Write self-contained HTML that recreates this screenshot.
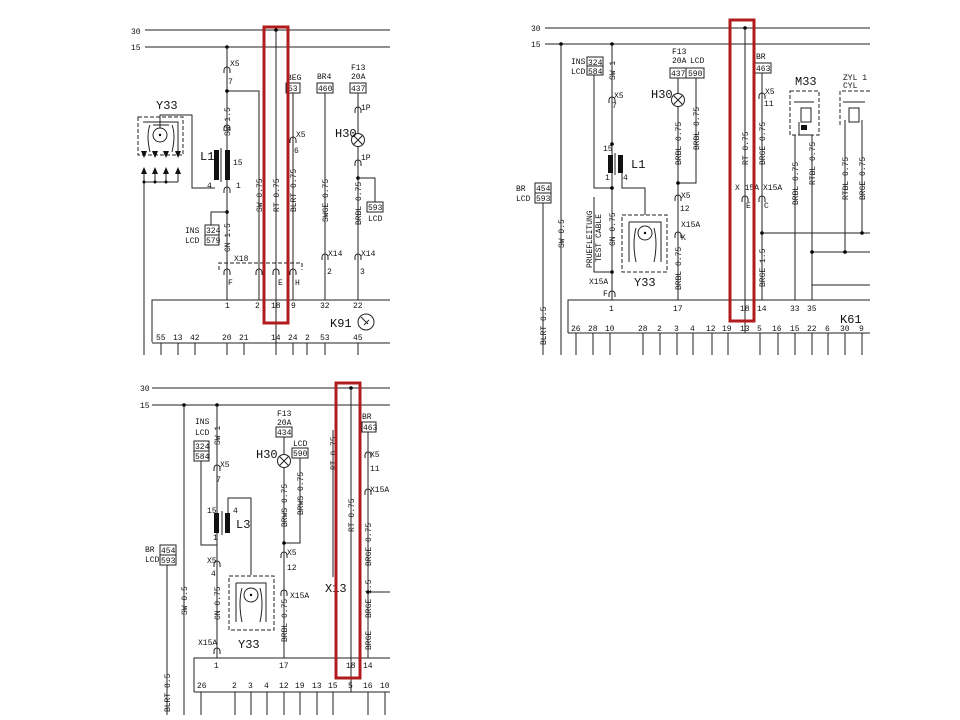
<!DOCTYPE html>
<html><head><meta charset="utf-8"><style>
html,body{margin:0;padding:0;background:#fff;width:960px;height:720px;overflow:hidden}
svg text{font-family:"Liberation Mono",monospace;fill:#111}
.s{font-size:8px}.m{font-size:12px}
.w{stroke:#222;stroke-width:1;fill:none}
.b{stroke:#222;stroke-width:1;fill:#fff}
.d{stroke:#222;stroke-width:1;fill:none;stroke-dasharray:4 2}
.r{stroke:#b01c1c;stroke-width:3;fill:none}
</style></head><body>
<svg width="960" height="720" viewBox="0 0 960 720" xmlns="http://www.w3.org/2000/svg">
<defs>
<path id="c" d="M-3,3 v-3 a3,3 0 0 1 6,0 v3" fill="none" stroke="#222"/>
</defs>

<!-- ============ PANEL 1 ============ -->
<text x="131" y="34" class="s">30</text><line x1="145" y1="30" x2="390" y2="30" class="w"/>
<text x="131" y="50" class="s">15</text><line x1="145" y1="47" x2="390" y2="47" class="w"/>
<circle cx="276" cy="30" r="1.8"/><line x1="276" y1="30" x2="276" y2="355" class="w"/>
<circle cx="227" cy="47" r="1.8"/>
<path class="w" d="M227,47V300 M227,91H259V300"/>
<circle cx="227" cy="91" r="1.8"/>
<use href="#c" x="227" y="70"/><text x="230" y="66" class="s">X5</text><text x="228" y="84" class="s">7</text>
<text transform="translate(230,136) rotate(-90)" class="s">SW 1.5</text>
<use href="#c" x="227" y="128"/><use href="#c" x="227" y="190"/>
<rect x="214" y="150" width="5" height="30" fill="#111"/><rect x="225" y="150" width="5" height="30" fill="#111"/>
<line x1="221" y1="148" x2="221" y2="182" class="w"/>
<text x="200" y="160" class="m">L1</text><text x="233" y="165" class="s">15</text><text x="207" y="188" class="s">4</text><text x="236" y="188" class="s">1</text>
<circle cx="227" cy="212" r="1.8"/><path class="w" d="M227,212H211V225"/>
<rect x="205" y="225" width="14" height="10" class="b"/><text x="206" y="233" class="s">324</text>
<rect x="205" y="235" width="14" height="10" class="b"/><text x="206" y="243" class="s">579</text>
<text x="185" y="233" class="s">INS</text><text x="185" y="243" class="s">LCD</text>
<text transform="translate(230,252) rotate(-90)" class="s">GN 1.5</text>
<path class="d" d="M219,270V263H302V270"/><text x="234" y="261" class="s">X18</text>
<use href="#c" x="227" y="272"/><use href="#c" x="259" y="272"/><use href="#c" x="276" y="272"/><use href="#c" x="293" y="272"/>
<text x="228" y="285" class="s">F</text><text x="278" y="285" class="s">E</text><text x="295" y="285" class="s">H</text>
<text transform="translate(262,212) rotate(-90)" class="s">SW 0.75</text>
<text transform="translate(279,212) rotate(-90)" class="s">RT 0.75</text>
<text x="287" y="80" class="s">BEG</text><rect x="286" y="83" width="14" height="10" class="b"/><text x="288" y="91" class="s">53</text>
<line x1="293" y1="93" x2="293" y2="300" class="w"/><use href="#c" x="293" y="140"/><text x="296" y="137" class="s">X5</text><text x="294" y="153" class="s">6</text>
<text transform="translate(296,212) rotate(-90)" class="s">BLRT 0.75</text>
<text x="317" y="79" class="s">BR4</text><rect x="317" y="83" width="16" height="10" class="b"/><text x="318" y="91" class="s">460</text>
<line x1="325" y1="93" x2="325" y2="300" class="w"/><text transform="translate(328,222) rotate(-90)" class="s">SWGE 0.75</text>
<use href="#c" x="325" y="257"/><text x="328" y="256" class="s">X14</text><text x="327" y="274" class="s">2</text>
<text x="351" y="70" class="s">F13</text><text x="351" y="79" class="s">20A</text><rect x="350" y="83" width="16" height="10" class="b"/><text x="351" y="91" class="s">437</text>
<line x1="358" y1="93" x2="358" y2="300" class="w"/>
<use href="#c" x="358" y="110"/><text x="361" y="110" class="s">1P</text>
<circle cx="358" cy="140" r="6.5" class="b"/><path class="w" d="M353.5,135.5l9,9M362.5,135.5l-9,9"/>
<text x="335" y="137" class="m">H30</text>
<use href="#c" x="358" y="163"/><text x="361" y="160" class="s">1P</text>
<circle cx="358" cy="178" r="1.8"/><path class="w" d="M358,178H375V202"/>
<rect x="367" y="202" width="16" height="10" class="b"/><text x="368" y="210" class="s">593</text><text x="368" y="221" class="s">LCD</text>
<text transform="translate(361,225) rotate(-90)" class="s">BRBL 0.75</text>
<use href="#c" x="358" y="257"/><text x="361" y="256" class="s">X14</text><text x="360" y="274" class="s">3</text>
<text x="156" y="109" class="m">Y33</text>
<rect x="138" y="117" width="45" height="38" class="d"/>
<path class="w" d="M143,122H178V152 M150,125q-4,10 0,27 M172,125q4,10 0,27 M153,125H169"/>
<circle cx="160" cy="135" r="7" class="b"/><circle cx="160" cy="135" r="1.2"/>
<path class="w" d="M160,128V115H192V188H215"/>
<g fill="#111"><path d="M141,151h6l-3,7z M152,151h6l-3,7z M163,151h6l-3,7z M175,151h6l-3,7z"/>
<path d="M141,174h6l-3,-7z M152,174h6l-3,-7z M163,174h6l-3,-7z M175,174h6l-3,-7z"/></g>
<path class="w" d="M144,174V182M155,174V182M166,174V182M178,174V182M144,182H178M144,182V355"/>
<circle cx="144" cy="182" r="1.5"/><circle cx="155" cy="182" r="1.5"/><circle cx="166" cy="182" r="1.5"/>
<path class="w" d="M152,342V300H390M152,343H390"/>
<g class="s"><text x="225" y="308">1</text><text x="255" y="308">2</text><text x="271" y="308">18</text><text x="291" y="308">9</text><text x="320" y="308">32</text><text x="353" y="308">22</text>
<text x="156" y="340">55</text><text x="173" y="340">13</text><text x="190" y="340">42</text><text x="222" y="340">20</text><text x="239" y="340">21</text><text x="271" y="340">14</text><text x="288" y="340">24</text><text x="305" y="340">2</text><text x="320" y="340">53</text><text x="353" y="340">45</text></g>
<path class="w" d="M161,343V355M178,343V355M195,343V355M227,343V355M244,343V355M293,343V355M307,343V355M325,343V355M358,343V355"/>
<text x="330" y="327" class="m">K91</text><circle cx="366" cy="322" r="8" class="w"/><path class="w" d="M361,317l7,7M364,325l5,-5"/>
<rect x="264" y="27" width="24" height="296" class="r"/>

<!-- ============ PANEL 2 ============ -->
<text x="531" y="31" class="s">30</text><line x1="545" y1="28" x2="870" y2="28" class="w"/>
<text x="531" y="47" class="s">15</text><line x1="545" y1="44" x2="870" y2="44" class="w"/>
<circle cx="561" cy="44" r="1.8"/><line x1="561" y1="44" x2="561" y2="355" class="w"/>
<text transform="translate(564,248) rotate(-90)" class="s">SW 0.5</text>
<text x="516" y="191" class="s">BR</text><text x="516" y="201" class="s">LCD</text>
<rect x="535" y="183" width="16" height="10" class="b"/><text x="536" y="191" class="s">454</text>
<rect x="535" y="193" width="16" height="10" class="b"/><text x="536" y="201" class="s">593</text>
<line x1="543" y1="203" x2="543" y2="355" class="w"/><text transform="translate(546,345) rotate(-90)" class="s">BLRT 0.5</text>
<text x="571" y="64" class="s">INS</text><text x="571" y="74" class="s">LCD</text>
<rect x="587" y="57" width="16" height="9" class="b"/><text x="588" y="65" class="s">324</text>
<rect x="587" y="66" width="16" height="9" class="b"/><text x="588" y="74" class="s">584</text>
<path class="w" d="M594,75V188H612"/>
<circle cx="612" cy="44" r="1.8"/><line x1="612" y1="44" x2="612" y2="300" class="w"/>
<text transform="translate(615,80) rotate(-90)" class="s">SW 1</text>
<use href="#c" x="612" y="100"/><text x="614" y="98" class="s">X5</text><text x="612" y="108" class="s">7</text>
<circle cx="612" cy="144" r="1.8"/><text x="603" y="151" class="s">15</text>
<rect x="608" y="155" width="5" height="18" fill="#111"/><rect x="618" y="155" width="5" height="18" fill="#111"/>
<line x1="615" y1="153" x2="615" y2="175" class="w"/><text x="631" y="168" class="m">L1</text>
<text x="605" y="180" class="s">1</text><text x="623" y="180" class="s">4</text>
<circle cx="612" cy="188" r="1.8"/><path class="w" d="M622,173V188H645V215"/>
<rect x="622" y="215" width="45" height="57" class="d"/>
<path class="w" d="M629,222H661V262 M636,228q-4,15 0,34 M654,228q4,15 0,34 M629,222V262"/>
<circle cx="645" cy="233" r="7" class="b"/><circle cx="645" cy="233" r="1.2"/>
<text x="634" y="286" class="m">Y33</text>
<text transform="translate(615,246) rotate(-90)" class="s">GN 0.75</text>
<path class="w" d="M594,197V272H612"/>
<text transform="translate(592,268) rotate(-90)" class="s">PRUEFLEITUNG</text>
<text transform="translate(601,262) rotate(-90)" class="s">TEST CABLE</text>
<circle cx="612" cy="272" r="1.8"/><text x="589" y="284" class="s">X15A</text><use href="#c" x="612" y="294"/><text x="603" y="296" class="s">F</text>
<text x="672" y="54" class="s">F13</text><text x="672" y="63" class="s">20A</text><text x="690" y="63" class="s">LCD</text>
<rect x="670" y="68" width="16" height="10" class="b"/><text x="671" y="76" class="s">437</text>
<rect x="686" y="68" width="18" height="10" class="b"/><text x="688" y="76" class="s">590</text>
<line x1="678" y1="78" x2="678" y2="300" class="w"/>
<circle cx="678" cy="100" r="6.5" class="b"/><path class="w" d="M673.5,95.5l9,9M682.5,95.5l-9,9"/>
<text x="651" y="98" class="m">H30</text>
<path class="w" d="M696,78V183H678"/><circle cx="678" cy="183" r="1.8"/>
<text transform="translate(681,165) rotate(-90)" class="s">BRBL 0.75</text>
<text transform="translate(699,150) rotate(-90)" class="s">BRBL 0.75</text>
<use href="#c" x="678" y="198"/><text x="681" y="198" class="s">X5</text><text x="680" y="211" class="s">12</text>
<use href="#c" x="678" y="235"/><text x="681" y="227" class="s">X15A</text><text x="681" y="240" class="s">K</text>
<text transform="translate(681,290) rotate(-90)" class="s">BRBL 0.75</text>
<circle cx="745" cy="28" r="1.8"/><line x1="745" y1="28" x2="745" y2="333" class="w"/>
<text transform="translate(748,165) rotate(-90)" class="s">RT 0.75</text>
<text x="735" y="190" class="s">X 15A</text><use href="#c" x="745" y="199"/><text x="746" y="208" class="s">E</text>
<text x="756" y="59" class="s">BR</text><rect x="755" y="63" width="16" height="10" class="b"/><text x="756" y="71" class="s">463</text>
<line x1="762" y1="73" x2="762" y2="300" class="w"/>
<use href="#c" x="762" y="96"/><text x="765" y="94" class="s">X5</text><text x="764" y="106" class="s">11</text>
<text transform="translate(765,165) rotate(-90)" class="s">BRGE 0.75</text>
<use href="#c" x="762" y="199"/><text x="763" y="190" class="s">X15A</text><text x="764" y="208" class="s">C</text>
<circle cx="762" cy="233" r="1.8"/><line x1="762" y1="233" x2="870" y2="233" class="w"/>
<text transform="translate(765,287) rotate(-90)" class="s">BRGE 1.5</text>
<text x="795" y="85" class="m">M33</text>
<rect x="790" y="91" width="29" height="44" class="d"/>
<path class="w" d="M794,102H814 M801,108h10v14h-10z M799,122V135H812"/><rect x="801" y="125" width="6" height="5" fill="#111"/>
<line x1="795" y1="135" x2="795" y2="300" class="w"/><line x1="812" y1="135" x2="812" y2="300" class="w"/>
<text transform="translate(798,205) rotate(-90)" class="s">BRBL 0.75</text>
<text transform="translate(815,185) rotate(-90)" class="s">RTBL 0.75</text>
<text x="843" y="80" class="s">ZYL 1</text><text x="843" y="88" class="s">CYL</text>
<path class="d" d="M840,125V91H870"/><path class="w" d="M843,102H865 M849,108h10v14h-10z"/>
<line x1="845" y1="120" x2="845" y2="252" class="w"/><line x1="862" y1="120" x2="862" y2="233" class="w"/>
<text transform="translate(848,200) rotate(-90)" class="s">RTBL 0.75</text>
<text transform="translate(865,200) rotate(-90)" class="s">BRGE 0.75</text>
<circle cx="862" cy="233" r="1.8"/>
<path class="w" d="M812,252H870M812,285H870"/><circle cx="812" cy="252" r="1.8"/><circle cx="845" cy="252" r="1.8"/>
<path class="w" d="M568,333V300H870M568,333H870"/>
<g class="s"><text x="609" y="311">1</text><text x="673" y="311">17</text><text x="740" y="311">18</text><text x="757" y="311">14</text><text x="790" y="311">33</text><text x="807" y="311">35</text>
<text x="571" y="331">26</text><text x="588" y="331">28</text><text x="605" y="331">10</text><text x="638" y="331">28</text><text x="657" y="331">2</text><text x="674" y="331">3</text><text x="690" y="331">4</text><text x="706" y="331">12</text><text x="722" y="331">19</text><text x="740" y="331">13</text><text x="757" y="331">5</text><text x="772" y="331">16</text><text x="790" y="331">15</text><text x="807" y="331">22</text><text x="825" y="331">6</text><text x="840" y="331">30</text><text x="859" y="331">9</text></g>
<text x="840" y="323" class="m">K61</text>
<path class="w" d="M576,333V355M593,333V355M610,333V355M643,333V355M660,333V355M677,333V355M693,333V355M712,333V355M728,333V355M760,333V355M778,333V355M795,333V355M812,333V355M828,333V355M845,333V355M862,333V355"/>
<rect x="730" y="20" width="24" height="301" class="r"/>

<!-- ============ PANEL 3 ============ -->
<text x="140" y="391" class="s">30</text><line x1="152" y1="388" x2="390" y2="388" class="w"/>
<text x="140" y="408" class="s">15</text><line x1="152" y1="405" x2="390" y2="405" class="w"/>
<circle cx="184" cy="405" r="1.8"/><line x1="184" y1="405" x2="184" y2="715" class="w"/>
<text transform="translate(187,615) rotate(-90)" class="s">SW 0.5</text>
<text x="145" y="552" class="s">BR</text><text x="145" y="562" class="s">LCD</text>
<rect x="160" y="545" width="16" height="10" class="b"/><text x="161" y="553" class="s">454</text>
<rect x="160" y="555" width="16" height="10" class="b"/><text x="161" y="563" class="s">593</text>
<line x1="167" y1="565" x2="167" y2="715" class="w"/><text transform="translate(170,712) rotate(-90)" class="s">BLRT 0.5</text>
<text x="195" y="424" class="s">INS</text><text x="195" y="435" class="s">LCD</text>
<rect x="194" y="441" width="15" height="10" class="b"/><text x="195" y="449" class="s">324</text>
<rect x="194" y="451" width="15" height="10" class="b"/><text x="195" y="459" class="s">584</text>
<path class="w" d="M201,461V545H217"/>
<circle cx="217" cy="405" r="1.8"/><line x1="217" y1="405" x2="217" y2="658" class="w"/>
<text transform="translate(220,445) rotate(-90)" class="s">SW 1</text>
<use href="#c" x="217" y="468"/><text x="220" y="467" class="s">X5</text><text x="216" y="482" class="s">7</text>
<text x="207" y="513" class="s">15</text><text x="233" y="513" class="s">4</text>
<rect x="214" y="513" width="5" height="20" fill="#111"/><rect x="225" y="513" width="5" height="20" fill="#111"/>
<line x1="222" y1="511" x2="222" y2="535" class="w"/><text x="236" y="528" class="m">L3</text>
<text x="213" y="540" class="s">1</text>
<path class="w" d="M228,513V498H251V575"/>
<use href="#c" x="217" y="564"/><text x="207" y="563" class="s">X5</text><text x="211" y="576" class="s">4</text>
<text transform="translate(220,620) rotate(-90)" class="s">GN 0.75</text>
<text x="198" y="645" class="s">X15A</text><use href="#c" x="217" y="651"/>
<rect x="229" y="576" width="45" height="54" class="d"/>
<path class="w" d="M236,583H266V622 M242,588q-4,15 0,34 M260,588q4,15 0,34 M236,583V622"/>
<circle cx="251" cy="595" r="7" class="b"/><circle cx="251" cy="595" r="1.2"/>
<text x="238" y="648" class="m">Y33</text>
<text x="277" y="416" class="s">F13</text><text x="277" y="425" class="s">20A</text>
<rect x="276" y="427" width="16" height="10" class="b"/><text x="277" y="435" class="s">434</text>
<line x1="284" y1="437" x2="284" y2="658" class="w"/>
<circle cx="284" cy="461" r="6.5" class="b"/><path class="w" d="M279.5,456.5l9,9M288.5,456.5l-9,9"/>
<text x="256" y="458" class="m">H30</text>
<text x="293" y="446" class="s">LCD</text><rect x="292" y="448" width="16" height="10" class="b"/><text x="293" y="456" class="s">590</text>
<path class="w" d="M300,458V543H284"/><circle cx="284" cy="543" r="1.8"/>
<text transform="translate(287,527) rotate(-90)" class="s">BRWS 0.75</text>
<text transform="translate(303,515) rotate(-90)" class="s">BRWS 0.75</text>
<use href="#c" x="284" y="555"/><text x="287" y="555" class="s">X5</text><text x="287" y="570" class="s">12</text>
<use href="#c" x="284" y="593"/><text x="290" y="598" class="s">X15A</text>
<text transform="translate(287,642) rotate(-90)" class="s">BRBL 0.75</text>
<line x1="333" y1="430" x2="333" y2="577" class="w"/><text transform="translate(336,470) rotate(-90)" class="s">RT 0.75</text>
<text x="325" y="592" class="m">X13</text>
<circle cx="351" cy="388" r="1.8"/><line x1="351" y1="388" x2="351" y2="692" class="w"/>
<text transform="translate(354,532) rotate(-90)" class="s">RT 0.75</text>
<text x="362" y="419" class="s">BR</text><rect x="362" y="422" width="14" height="10" class="b"/><text x="363" y="430" class="s">463</text>
<line x1="368" y1="432" x2="368" y2="658" class="w"/>
<use href="#c" x="368" y="455"/><text x="370" y="457" class="s">X5</text><text x="370" y="471" class="s">11</text>
<use href="#c" x="368" y="492"/><text x="370" y="492" class="s">X15A</text>
<text transform="translate(371,566) rotate(-90)" class="s">BRGE 0.75</text>
<circle cx="368" cy="592" r="1.8"/><line x1="368" y1="592" x2="390" y2="592" class="w"/>
<text transform="translate(371,618) rotate(-90)" class="s">BRGE 1.5</text>
<text transform="translate(371,650) rotate(-90)" class="s">BRGE</text>
<path class="w" d="M194,692V658H390M194,692H390"/>
<g class="s"><text x="214" y="668">1</text><text x="279" y="668">17</text><text x="346" y="668">18</text><text x="363" y="668">14</text>
<text x="197" y="688">26</text><text x="232" y="688">2</text><text x="248" y="688">3</text><text x="264" y="688">4</text><text x="279" y="688">12</text><text x="295" y="688">19</text><text x="312" y="688">13</text><text x="328" y="688">15</text><text x="348" y="688">5</text><text x="363" y="688">16</text><text x="380" y="688">10</text></g>
<path class="w" d="M201,692V715M235,692V715M251,692V715M267,692V715M284,692V715M300,692V715M317,692V715M333,692V715M368,692V715M385,692V715"/>
<rect x="336" y="383" width="24" height="295" class="r"/>
</svg>
</body></html>
